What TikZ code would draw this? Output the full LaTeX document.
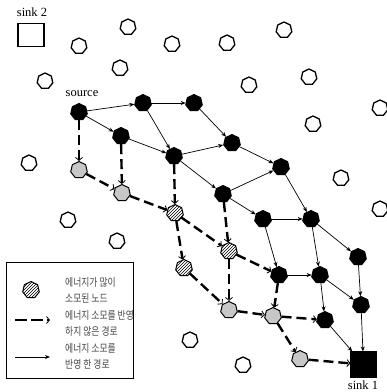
\documentclass[tikz,border=0pt]{standalone}
\usepackage{fontspec}
\setmainfont{Liberation Serif}
\newfontfamily\kr[FakeStretch=0.8]{Noto Sans CJK KR}
\usetikzlibrary{shapes.geometric,patterns,arrows.meta}
\tikzset{
  nd/.style={regular polygon, regular polygon sides=7, minimum size=17pt, inner sep=0pt, draw=black, line width=1pt},
  blk/.style={nd, fill=black},
  wht/.style={nd, fill=white, line width=1.3pt, minimum size=16pt},
  gry/.style={nd, fill=black!22},
  hat/.style={nd, preaction={fill=white}, pattern=north east lines},
  sq/.style={draw=black, line width=1.1pt, inner sep=0pt, minimum size=24pt},
  th/.style={-{Stealth[length=5pt,width=4pt]}, line width=0.7pt},
  ds/.style={line width=2.4pt, dash pattern=on 10pt off 5pt, -{Straight Barb[length=3pt,width=7pt,line width=0.8pt]}},
  lbl/.style={font=\fontsize{12.5}{14}\selectfont, inner sep=0pt},
  kt/.style={font=\kr\fontsize{11}{16}\selectfont, text=black!72, align=left, anchor=west, inner sep=0pt}
}
\begin{document}
\begin{tikzpicture}[x=1pt,y=-1pt]
\useasboundingbox (0,0) rectangle (387,392);
% white nodes
\foreach \i/\p in {1/{(128,27)},2/{(79,46)},3/{(172,44)},4/{(120,68)},5/{(45,81)},6/{(29,163)},7/{(227,43)},8/{(284,30)},9/{(249,85)},10/{(309,77)},11/{(380,108)},12/{(313,124)},13/{(341,178)},14/{(68,220)},15/{(117,241)},16/{(190,340)},17/{(380,209)},18/{(243,365)}}
  \node[wht] (w\i) at \p {};
% sinks
\node[sq, minimum width=26pt, minimum height=23pt] (sink2) at (31,35) {};
\node[lbl] (s2l) at (32,12) {sink 2};
\node[sq, fill=black, minimum size=25pt] (sink1) at (363.5,364.5) {};
\node[lbl] (s1l) at (363,385) {sink 1};
% black nodes
\node[blk] (S) at (79,112) {};
\node[lbl] (srcl) at (82,94) {source};
\node[blk] (A) at (143,103) {};
\node[blk] (B) at (194,103) {};
\node[blk] (C) at (121,136) {};
\node[blk] (D) at (174,156) {};
\node[blk] (E) at (232,143) {};
\node[blk] (F) at (281,167) {};
\node[blk] (G) at (223,194) {};
\node[blk] (H) at (263,219) {};
\node[blk] (I) at (311,219) {};
\node[blk] (J) at (358,257) {};
\node[blk] (K) at (279,275) {};
\node[blk] (L) at (320,275) {};
\node[blk] (M) at (361,305) {};
\node[blk] (N) at (325,320) {};
% gray nodes
\node[gry] (g1) at (79,170) {};
\node[gry] (g2) at (122,193) {};
\node[gry] (g3) at (229,310) {};
\node[gry] (g4) at (273,316) {};
\node[gry] (g5) at (300,359) {};
% hatched nodes
\node[hat] (h1) at (175,213) {};
\node[hat] (h2) at (229,251) {};
\node[hat] (h3) at (184,268) {};
% thin edges
\foreach \a/\b in {S/A,S/C,A/B,A/D,C/D,B/E,D/E,D/G,E/F,G/F,G/H,F/I,H/I,H/K,I/L,I/J,K/L,L/N,L/M,J/M,M/sink1,N/sink1}
  \draw[th] (\a) -- (\b);
% dashed edges
\foreach \a/\b in {S/g1,C/g2,g1/g2,D/h1,g2/h1,h1/h3,h1/h2,G/h2,h2/g3,h3/g3,h2/K,K/g4,g3/g4,g4/N,g4/g5,g5/sink1}
  \draw[ds] (\a) -- (\b);
% legend
\node[draw=black, line width=1pt, minimum width=127pt, minimum height=116pt, inner sep=0pt] (leg) at (69.5,320) {};
\node[hat] (lh) at (31,290) {};
\node[kt] (lt1) at (65,290) {에너지가 많이\\소모된 노드};
\coordinate (ld1) at (15,320);
\coordinate (ld2) at (50,320);
\draw[ds, dash pattern=on 12pt off 4pt] (ld1) -- (ld2);
\node[kt] (lt2) at (65,323.5) {에너지 소모를 반영\\하지 않은 경로};
\coordinate (ls1) at (15,357);
\coordinate (ls2) at (50,357);
\draw[th] (ls1) -- (ls2);
\node[kt] (lt3) at (65,356) {에너지 소모를\\반영 한 경로};
\end{tikzpicture}
\end{document}
